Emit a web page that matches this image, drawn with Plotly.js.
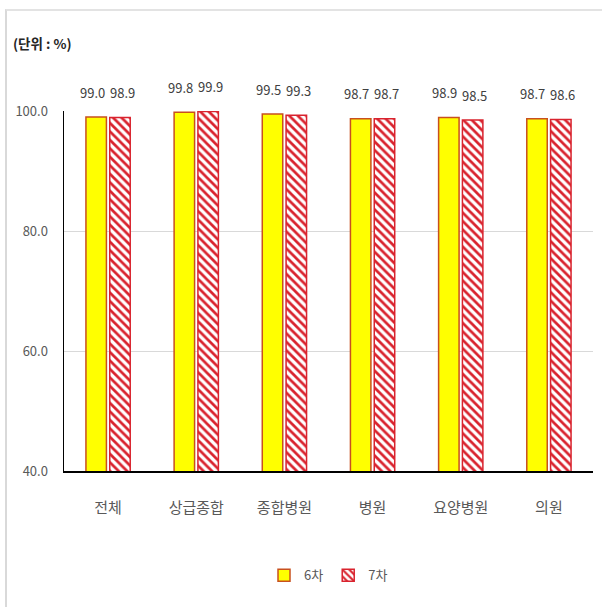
<!DOCTYPE html>
<html><head><meta charset="utf-8">
<script src="https://cdn.plot.ly/plotly-3.0.1.min.js"></script>
<style>
html,body{margin:0;padding:0;background:#fff;}
#frame{position:absolute;left:5px;top:9px;width:597px;height:598px;border-left:2px solid #d9d9d9;border-top:2px solid #e3e3e3;}
#chart{position:absolute;left:0;top:0;width:602px;height:607px;}
</style></head>
<body>
<div id="frame"></div>
<div id="chart"></div>
<script>
const categories = ['전체','상급종합','종합병원','병원','요양병원','의원'];
const round6 = [99.0, 99.8, 99.5, 98.7, 98.9, 98.7];
const round7 = [98.9, 99.9, 99.3, 98.7, 98.5, 98.6];
const seriesNames = ['6차','7차'];
const yTicks = [40, 60, 80, 100];
const yTickText = ['40.0','60.0','80.0','100.0'];

const font = "'Noto Sans CJK KR', 'Noto Sans', sans-serif";

const traces = [
  {type:'bar', name:seriesNames[0], x:categories, y:round6,
   marker:{color:'#FFFF00', line:{color:'#C8501E', width:1.5}},
   hoverinfo:'skip'},
  {type:'bar', name:seriesNames[1], x:categories, y:round7,
   marker:{color:'#FFFFFF', line:{color:'#D9232E', width:1.5},
     pattern:{shape:'\\', fgcolor:'#D9232E', bgcolor:'#FFFFFF', size:6, solidity:0.45}},
   hoverinfo:'skip'}
];

const annotations = [];
categories.forEach((c,i)=>{
  annotations.push({x:c, y:round6[i], xref:'x', yref:'y', text:round6[i].toFixed(1), showarrow:false,
    xshift:-16, yshift:25, font:{family:font, size:13, color:'#404040'}});
  annotations.push({x:c, y:round7[i], xref:'x', yref:'y', text:round7[i].toFixed(1), showarrow:false,
    xshift:14, yshift:25, font:{family:font, size:13, color:'#404040'}});
});
annotations.push({xref:'paper', yref:'paper', x:-0.1, y:1.19, xanchor:'left', yanchor:'middle',
  text:'<b>(단위 : %)</b>', showarrow:false, font:{family:font, size:13.5, color:'#262626'}});

const layout = {
  width:602, height:607,
  paper_bgcolor:'rgba(0,0,0,0)', plot_bgcolor:'rgba(0,0,0,0)',
  margin:{l:64, r:9, t:111, b:136},
  barmode:'group', bargap:0.46, bargroupgap:0.14,
  showlegend:true,
  legend:{orientation:'h', x:0.5, xanchor:'center', y:-0.29, yanchor:'middle',
    font:{family:font, size:13, color:'#595959'}, itemwidth:30, tracegroupgap:0,
    itemclick:false},
  xaxis:{showline:true, linecolor:'#000000', linewidth:1.5, ticks:'', 
    tickfont:{family:font, size:15, color:'#595959'}, ticklabelstandoff:22, fixedrange:true},
  yaxis:{range:[40,100], tickvals:yTicks, ticktext:yTickText, showline:true, linecolor:'#000000', linewidth:1.5,
    showgrid:true, gridcolor:'#d9d9d9', gridwidth:1, zeroline:false, ticks:'',
    tickfont:{family:font, size:13, color:'#595959'}, ticklabelstandoff:12, fixedrange:true},
  annotations:annotations
};

Plotly.newPlot('chart', traces, layout, {displayModeBar:false, staticPlot:true});
</script>
</body></html>
